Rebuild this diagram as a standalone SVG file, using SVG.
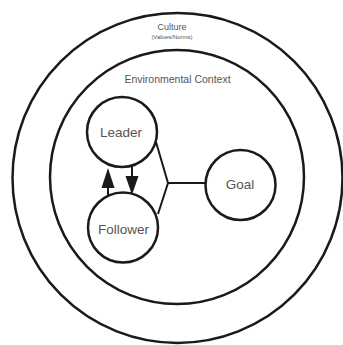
<svg xmlns="http://www.w3.org/2000/svg" width="343" height="345" viewBox="0 0 343 345">
<style>
.ring{fill:none;stroke:#1a1a1a;stroke-width:2.5}
.node{fill:#fff;stroke:#1a1a1a;stroke-width:2.5}
.lbl{font-family:"Liberation Sans",Arial,sans-serif;fill:#555;text-anchor:middle}
.con{fill:none;stroke:#1a1a1a;stroke-width:2}
.head{fill:#1a1a1a}
</style>
<rect width="343" height="345" fill="#fff"/>
<g id="culture">
<circle class="ring" cx="177.5" cy="178" r="165"/>
<text class="lbl" x="172" y="30" font-size="9">Culture</text>
<text class="lbl" x="172" y="39" font-size="6">(Values/Norms)</text>
</g>
<g id="environment">
<circle class="ring" cx="177" cy="177" r="127"/>
<text class="lbl" x="177.5" y="83" font-size="10.5">Environmental Context</text>
</g>
<g id="connectors">
<line class="con" x1="108" y1="196" x2="108" y2="180"/>
<path class="head" d="M101.5,188 L108,168 L114.5,188 z"/>
<line class="con" x1="132" y1="166" x2="132" y2="182"/>
<path class="head" d="M125.5,176 L132,195 L138.5,176 z"/>
<polyline class="con" points="156,142 168,183 158,214"/>
<line class="con" x1="168" y1="183" x2="205" y2="183"/>
</g>
<g id="leader">
<circle class="node" cx="122" cy="132" r="35"/>
<text class="lbl" x="121" y="137" font-size="13.5">Leader</text>
</g>
<g id="follower">
<circle class="node" cx="123" cy="227.5" r="35"/>
<text class="lbl" x="123.5" y="234" font-size="13.5">Follower</text>
</g>
<g id="goal">
<circle class="node" cx="240.5" cy="185" r="35"/>
<text class="lbl" x="240" y="189" font-size="13.5">Goal</text>
</g>
</svg>
